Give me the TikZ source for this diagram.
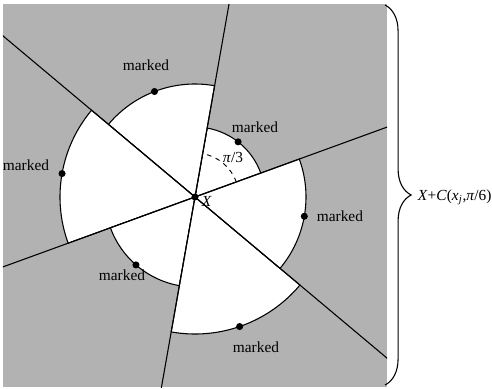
\documentclass[tikz,border=0pt]{standalone}
\usepackage{fontspec}
\setmainfont{Liberation Serif}
\usetikzlibrary{decorations.pathreplacing}

\tikzset{
  sector/.style={fill=white, draw=black, line width=0.7pt},
  cutline/.style={line width=0.7pt},
  markdot/.style={circle, fill=black, inner sep=0pt, minimum size=4.6pt},
  marklabel/.style={inner sep=1pt},
}

\begin{document}
\begin{tikzpicture}[x=0.65pt,y=0.65pt]
\useasboundingbox (-195,-191) rectangle (297,197);

% fondo gris
\fill[gray!60] (-192,-190) rectangle (192,193);

% sectores blancos
\foreach \a/\b/\r in {20/80/70, 80/140/113, 140/200/135, 200/260/90, 260/320/137, 320/380/111}
  \filldraw[sector] (0,0) -- (\a:\r) arc[start angle=\a, end angle=\b, radius=\r] -- cycle;

% rectas
\coordinate (X) at (0,0);
\begin{scope}
\clip (-192,-190) rectangle (192,193);
\foreach \a in {20,80,140}{
  \coordinate (p\a) at (\a:320);
  \coordinate (q\a) at (\a+180:320);
  \draw[cutline] (p\a) -- (q\a);
}
\end{scope}

% angulo
\draw[dashed, line width=0.6pt] (20:44) arc[start angle=20, end angle=80, radius=44];
\node (ang) at (38,40) {\textit{π}/3};

% puntos marcados
\node[markdot] (c) at (X) {};
\node[anchor=west, inner sep=1pt] (lX) at (5,-4) {\textit{X}};
\node[markdot] (m1) at (52:70) {};
\node[markdot] (m2) at (111:113) {};
\node[markdot] (m3) at (170:135) {};
\node[markdot] (m4) at (229:90) {};
\node[markdot] (m5) at (289:137) {};
\node[markdot] (m6) at (350:111) {};
\node[marklabel] (t1) at (60,70) {marked};
\node[marklabel] (t2) at (-49,132) {marked};
\node[marklabel] (t3) at (-169,32) {marked};
\node[marklabel] (t4) at (-73,-78) {marked};
\node[marklabel] (t5) at (61,-150) {marked};
\node[marklabel, anchor=west] (t6) at (120,-19) {marked};

% llave
\coordinate (btop) at (190,192);
\coordinate (bbot) at (190,-188);
\draw[line width=0.7pt, decorate, decoration={brace, amplitude=17pt}] (btop) -- (bbot);
\node[anchor=west, inner sep=1pt] (lab) at (221,0)
  {\textit{X}+\textit{C}(\textit{x}\textsubscript{\textit{j}},\textit{π}/6)};
\end{tikzpicture}
\end{document}
